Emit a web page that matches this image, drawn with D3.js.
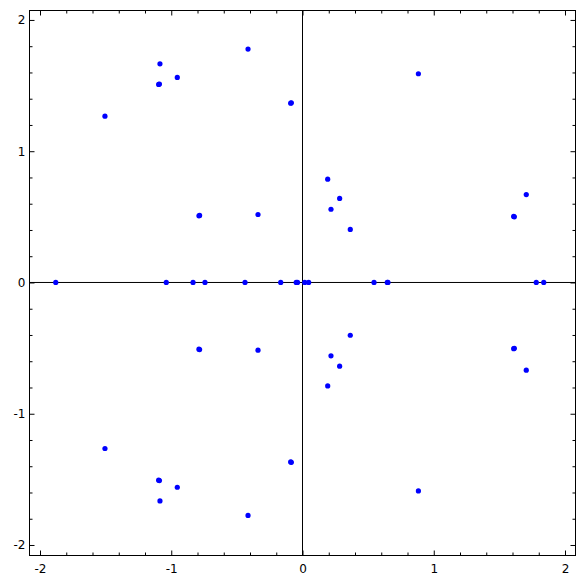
<!DOCTYPE html>
<html>
<head>
<meta charset="utf-8">
<script src="https://cdn.jsdelivr.net/npm/d3@7"></script>
<style>
  html, body { margin: 0; padding: 0; background: #fff; }
  svg { display: block; }
  text { font-family: "DejaVu Sans", sans-serif; font-size: 12px; fill: #000; }
</style>
</head>
<body>
<svg id="chart" width="585" height="585"></svg>
<script>
const upperX = [-1.505, -1.086, -1.096, -1.090, -0.954, -0.415, -0.090, -0.085, -0.789, -0.784, -0.339, 0.883, 0.192, 0.283, 0.217, 0.364, 1.614, 1.609, 1.705];
const upperY = [ 1.267,  1.666,  1.509,  1.512,  1.562,  1.778,  1.366,  1.369,  0.508,  0.511,  0.518, 1.590, 0.787, 0.640, 0.558, 0.404, 0.500, 0.503, 0.670];
const lowerX = [-1.505, -1.086, -1.096, -1.090, -0.954, -0.415, -0.090, -0.085, -0.789, -0.784, -0.339, 0.883, 0.192, 0.283, 0.217, 0.364, 1.614, 1.609, 1.705];
const lowerY = [-1.265, -1.664, -1.506, -1.509, -1.560, -1.775, -1.367, -1.370, -0.508, -0.511, -0.516, -1.588, -0.788, -0.638, -0.559, -0.402, -0.501, -0.504, -0.668];
const realX  = [-1.880, -1.038, -0.834, -0.743, -0.438, -0.166, -0.048, -0.038, 0.017, 0.047, 0.545, 0.646, 0.651, 1.781, 1.838];
const realY  = [0, 0, 0, 0, 0, 0, 0, 0, 0, 0, 0, 0, 0, 0, 0];

const majorTicks = [-2, -1, 0, 1, 2];
const tickLabels = ["-2", "-1", "0", "1", "2"];
const minorTicks = [-2.0,-1.8,-1.6,-1.4,-1.2,-1.0,-0.8,-0.6,-0.4,-0.2,0,0.2,0.4,0.6,0.8,1.0,1.2,1.4,1.6,1.8,2.0];

const points = []
  .concat(upperX.map((x, i) => [x, upperY[i]]))
  .concat(lowerX.map((x, i) => [x, lowerY[i]]))
  .concat(realX.map((x, i) => [x, realY[i]]));

const svg = d3.select("#chart");
const L = 29.5, R = 575.5, T = 10.5, B = 555.5;
const x = d3.scaleLinear().domain([-2.080, 2.080]).range([L, R]);
const y = d3.scaleLinear().domain([-2.080, 2.072]).range([B, T]);

// frame
svg.append("rect").attr("x", L).attr("y", T).attr("width", R - L).attr("height", B - T)
  .attr("fill", "none").attr("stroke", "#000").attr("stroke-width", 1);

// minor ticks (inward on all four sides)
const minorX = minorTicks.filter(v => !majorTicks.includes(v) && x(v) > L && x(v) < R);
const minorY = minorTicks.filter(v => !majorTicks.includes(v) && y(v) > T && y(v) < B);
function drawAxes(values, size, labels) {
  const fmt = (d) => labels ? tickLabels[majorTicks.indexOf(d)] : "";
  const bottom = svg.append("g").attr("transform", `translate(0,${B})`)
    .call(d3.axisBottom(x).tickValues(values.x).tickSize(-size).tickPadding(9).tickFormat(fmt));
  const top = svg.append("g").attr("transform", `translate(0,${T})`)
    .call(d3.axisTop(x).tickValues(values.x).tickSize(-size).tickFormat(""));
  const left = svg.append("g").attr("transform", `translate(${L},0)`)
    .call(d3.axisLeft(y).tickValues(values.y).tickSize(-size).tickPadding(4).tickFormat(fmt));
  const right = svg.append("g").attr("transform", `translate(${R},0)`)
    .call(d3.axisRight(y).tickValues(values.y).tickSize(-size).tickFormat(""));
  [bottom, top, left, right].forEach(g => {
    g.select(".domain").remove();
    g.selectAll("line").attr("stroke", "#000").attr("stroke-width", 1);
    g.selectAll("text").attr("font-family", "DejaVu Sans, sans-serif").attr("font-size", 12).attr("fill", "#000");
  });
}
drawAxes({x: minorX, y: minorY}, 3, false);
drawAxes({x: majorTicks, y: majorTicks}, 5, true);

// axes through the origin
svg.append("line").attr("x1", L).attr("x2", R).attr("y1", y(0)).attr("y2", y(0))
  .attr("stroke", "#000").attr("stroke-width", 1);
svg.append("line").attr("x1", x(0)).attr("x2", x(0)).attr("y1", T).attr("y2", B)
  .attr("stroke", "#000").attr("stroke-width", 1);

// points
svg.append("g").selectAll("circle").data(points).join("circle")
  .attr("cx", d => x(d[0])).attr("cy", d => y(d[1])).attr("r", 2.6)
  .attr("fill", "#0000ff");
</script>
</body>
</html>
